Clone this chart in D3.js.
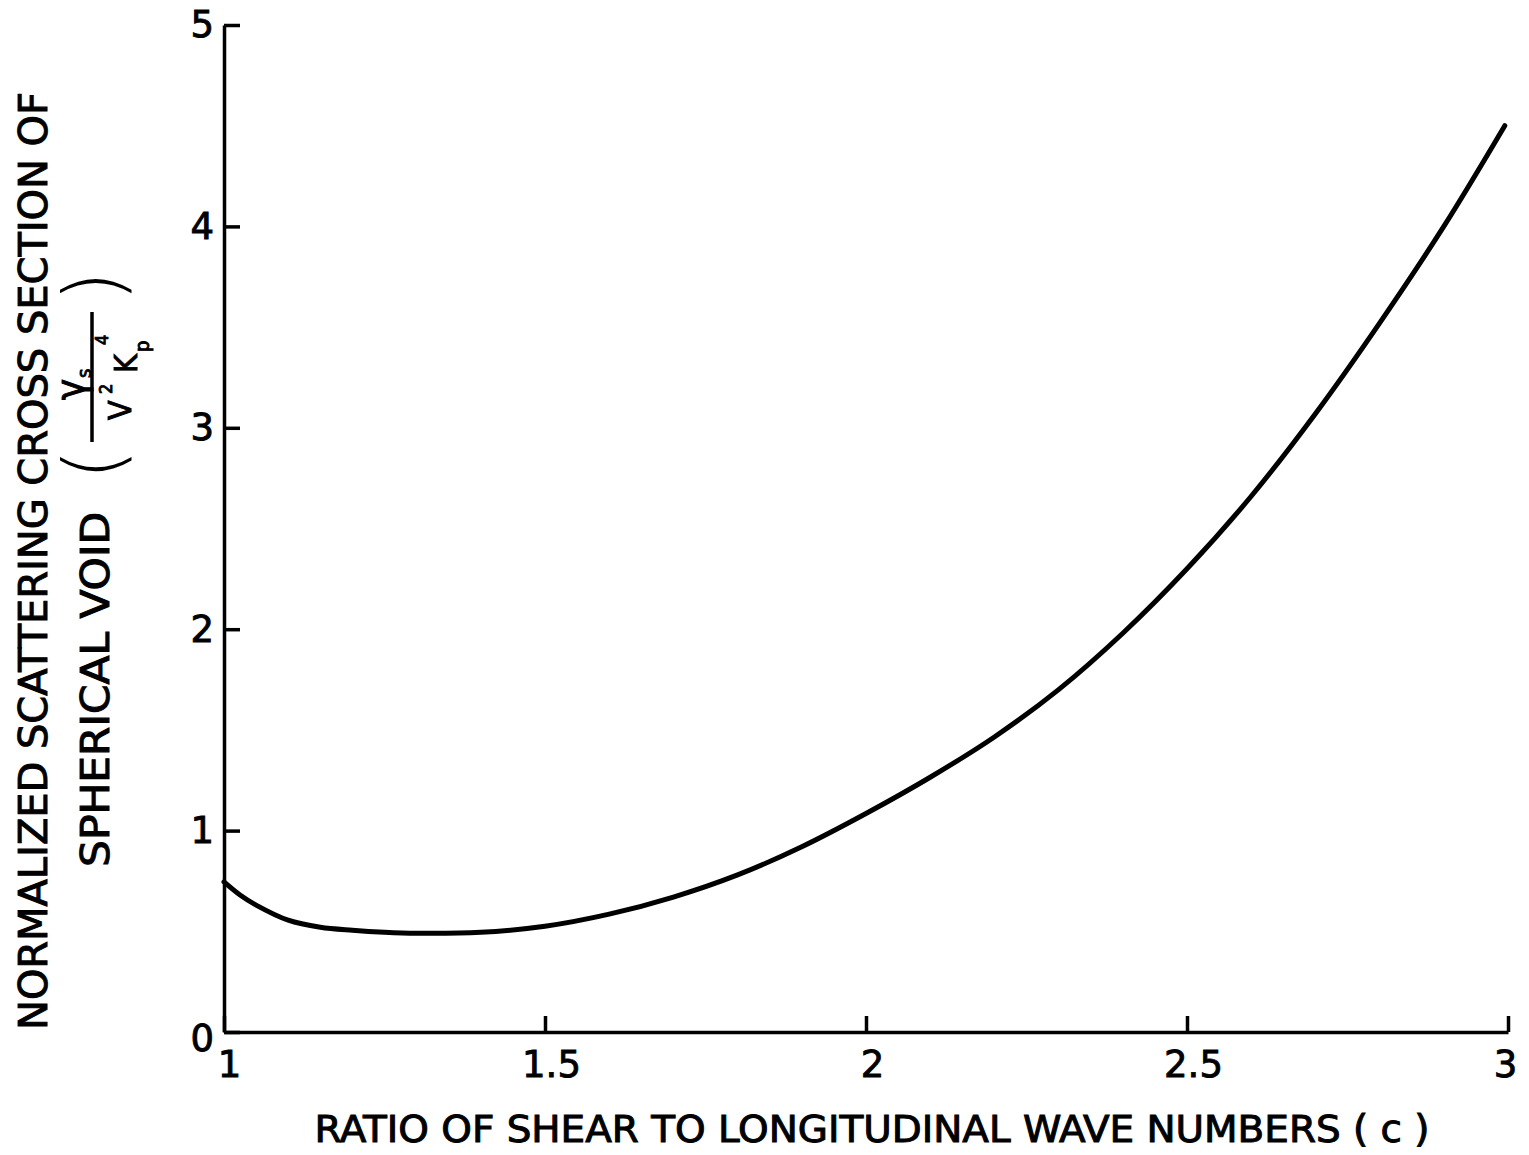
<!DOCTYPE html>
<html>
<head>
<meta charset="utf-8">
<script src="https://cdnjs.cloudflare.com/ajax/libs/d3/7.8.5/d3.min.js"></script>
<style>
    body { margin: 0; background: #fff; }
    text { font-family: "DejaVu Sans Condensed", "DejaVu Sans", sans-serif; fill: #000; stroke: #000; stroke-width: 0.9px; }
    text.paren { stroke: none; }
</style>
</head>
<body>
<svg id="chart" width="1529" height="1155"></svg>
<script>
// ratio c (shear / longitudinal wave numbers)
var ratioC = [1.0, 1.025, 1.05, 1.1, 1.15, 1.2, 1.25, 1.3, 1.4, 1.5, 1.6, 1.7, 1.8, 1.9,
    2.0, 2.1, 2.2, 2.3, 2.4, 2.5, 2.6, 2.7, 2.8, 2.9, 2.995];
// normalized scattering cross section
var crossSection = [0.745, 0.68, 0.63, 0.555, 0.52, 0.505, 0.495, 0.49, 0.495, 0.525, 0.585, 0.67, 0.78, 0.92,
    1.085, 1.265, 1.465, 1.70, 1.98, 2.30, 2.66, 3.07, 3.52, 4.0, 4.5];

var xTicks = [1, 1.5, 2, 2.5, 3];
var xTickLabels = ["1", "1.5", "2", "2.5", "3"];
var yTicks = [0, 1, 2, 3, 4, 5];

var data = ratioC.map(function (c, i) {
    return {c: c, v: crossSection[i]};
});

var svg = d3.select("#chart");

var margin = {top: 25, right: 21, bottom: 123, left: 224},
    width = +svg.attr("width") - margin.left - margin.right,
    height = +svg.attr("height") - margin.top - margin.bottom,
    g = svg.append("g").attr("transform", "translate(" + margin.left + "," + margin.top + ")");

var x = d3.scaleLinear().domain([1, 3]).range([0, width]),
    y = d3.scaleLinear().domain([0, 5]).range([height, 0]);

var line = d3.line()
    .curve(d3.curveCatmullRom.alpha(0.5))
    .x(function (d) {
        return x(d.c);
    })
    .y(function (d) {
        return y(d.v);
    });

var axisX = d3.axisBottom(x)
    .tickValues(xTicks)
    .tickSizeInner(-16)
    .tickSizeOuter(0)
    .tickPadding(19)
    .tickFormat(function (d, i) {
        return xTickLabels[i];
    });

var axisY = d3.axisLeft(y)
    .tickValues(yTicks)
    .tickSizeInner(-16)
    .tickSizeOuter(0)
    .tickPadding(10)
    .tickFormat(d3.format("d"));

var gx = g.append("g")
    .attr("class", "axis axis--x")
    .attr("transform", "translate(0," + height + ")")
    .call(axisX);

var gy = g.append("g")
    .attr("class", "axis axis--y")
    .call(axisY);

g.selectAll(".axis path, .axis line")
    .attr("stroke", "#000")
    .attr("stroke-width", 3.5);

g.selectAll(".axis text")
    .style("font-size", "37px")
    .style("font-family", "DejaVu Sans, sans-serif")
    .attr("fill", "#000");

// first x label sits a little right of the corner
gx.selectAll(".tick text")
    .attr("dx", function (d) {
        return d === 1 ? 5 : (d === 3 ? -3 : 6);
    });
gy.selectAll(".tick text")
    .attr("dy", function (d) {
        return d === 0 ? "0.5em" : "0.32em";
    });

g.append("path")
    .datum(data)
    .attr("fill", "none")
    .attr("stroke", "#000")
    .attr("stroke-width", 5)
    .attr("stroke-linecap", "round")
    .attr("d", line);

// x axis title
g.append("text")
    .attr("x", x(2) + 6)
    .attr("y", height + 110)
    .attr("text-anchor", "middle")
    .attr("textLength", 1115)
    .attr("lengthAdjust", "spacingAndGlyphs")
    .style("font-size", "37px")
    .text("RATIO OF SHEAR  TO LONGITUDINAL  WAVE  NUMBERS  ( c )");

// y axis title, rotated; local x runs up the page, local y runs right
var yl = svg.append("g").attr("transform", "rotate(-90)");

yl.append("text")
    .attr("x", -1030)
    .attr("y", 47)
    .attr("textLength", 938)
    .attr("lengthAdjust", "spacingAndGlyphs")
    .style("font-size", "39px")
    .text("NORMALIZED  SCATTERING  CROSS  SECTION  OF");

yl.append("text")
    .attr("x", -867)
    .attr("y", 109)
    .attr("textLength", 355)
    .attr("lengthAdjust", "spacingAndGlyphs")
    .style("font-size", "39px")
    .text("SPHERICAL   VOID");

yl.append("text")
    .attr("class", "paren")
    .attr("x", -480)
    .attr("y", 121)
    .style("font-family", "DejaVu Sans, sans-serif")
    .style("font-weight", "200")
    .style("font-size", "80px")
    .text("(");

yl.append("text")
    .attr("class", "paren")
    .attr("x", -302)
    .attr("y", 121)
    .style("font-family", "DejaVu Sans, sans-serif")
    .style("font-weight", "200")
    .style("font-size", "80px")
    .text(")");

// fraction
yl.append("line")
    .attr("x1", -442)
    .attr("x2", -312)
    .attr("y1", 92)
    .attr("y2", 92)
    .attr("stroke", "#000")
    .attr("stroke-width", 3.5);

yl.append("text")
    .attr("x", -400)
    .attr("y", 84)
    .style("font-size", "40px")
    .text("γ");

yl.append("text")
    .attr("x", -378)
    .attr("y", 91)
    .style("font-size", "20px")
    .text("s");

yl.append("text")
    .attr("x", -420)
    .attr("y", 131)
    .style("font-size", "32px")
    .text("V");

yl.append("text")
    .attr("x", -394)
    .attr("y", 112)
    .style("font-size", "18px")
    .text("2");

yl.append("text")
    .attr("x", -373)
    .attr("y", 137)
    .style("font-size", "32px")
    .text("K");

yl.append("text")
    .attr("x", -352)
    .attr("y", 149)
    .style("font-size", "20px")
    .text("p");

yl.append("text")
    .attr("x", -345)
    .attr("y", 108)
    .style("font-size", "18px")
    .text("4");
</script>
</body>
</html>
